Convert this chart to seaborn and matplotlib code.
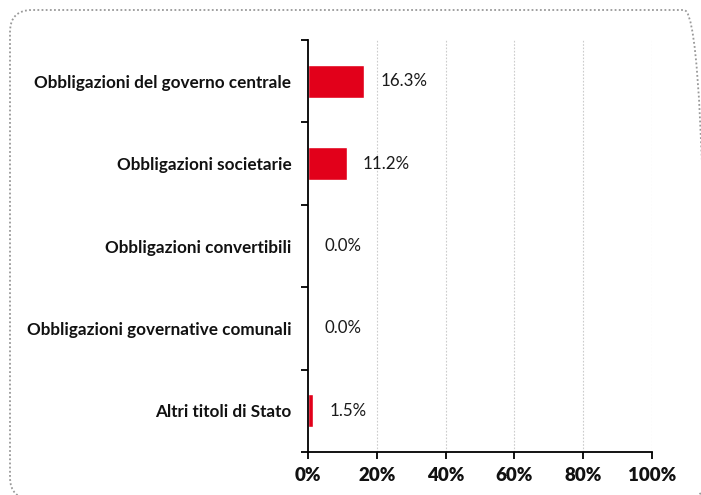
import matplotlib
matplotlib.use("Agg")
import matplotlib.pyplot as plt
import seaborn as sns
import pandas as pd
import numpy as np
from matplotlib.patches import FancyBboxPatch
from matplotlib.transforms import IdentityTransform
from matplotlib.ticker import FixedLocator, PercentFormatter

categories = [
    "Obbligazioni del governo centrale",
    "Obbligazioni societarie",
    "Obbligazioni convertibili",
    "Obbligazioni governative comunali",
    "Altri titoli di Stato",
]
values = [16.3, 11.2, 0.0, 0.0, 1.5]
x_ticks = [0, 20, 40, 60, 80, 100]

sns.set_style("white")
plt.rcParams["font.family"] = ["Lato", "DejaVu Sans"]

df = pd.DataFrame({"cat": categories, "val": values})

W, H = 701, 495
fig = plt.figure(figsize=(W / 100, H / 100), dpi=100)
ax = fig.add_axes([308 / W, 1 - 452 / H, (652 - 308) / W, (452 - 40) / H])

sns.barplot(data=df, y="cat", x="val", orient="h", color="#e2001a",
            width=0.4, ax=ax, saturation=1)

ax.set_xlim(0, 100)
ax.set_ylim(4.5, -0.5)
ax.xaxis.set_major_locator(FixedLocator(x_ticks))
ax.xaxis.set_major_formatter(PercentFormatter(decimals=0))
ax.set_xlabel("")
ax.set_ylabel("")

for x in x_ticks[1:]:
    ax.axvline(x, color="#cccccc", lw=0.8, ls=(0, (1.5, 1.5)), zorder=0)

for i, v in enumerate(values):
    ax.text(v + 4.8, i, f"{v:.1f}%", va="center", ha="left", fontsize=12.2,
            color="#1a1a1a")

for s in ["top", "right"]:
    ax.spines[s].set_visible(False)
for s in ["left", "bottom"]:
    ax.spines[s].set_color("black")
    ax.spines[s].set_linewidth(1.3)

ax.tick_params(axis="y", which="major", length=0, pad=12)
ax.set_yticks(np.arange(-0.5, 5, 1), minor=True)
ax.tick_params(axis="y", which="minor", length=5, width=1.3, color="black", left=True)
ax.tick_params(axis="x", which="major", length=5, width=1.3, color="black", bottom=True, pad=6)

for lbl in ax.get_yticklabels():
    lbl.set_fontweight("bold")
    lbl.set_fontsize(12.3)
    lbl.set_color("#111111")
for lbl in ax.get_xticklabels():
    lbl.set_fontweight("heavy")
    lbl.set_fontsize(13.5)
    lbl.set_color("#111111")

# rounded dotted frame in pixel coordinates (extends just beyond right/bottom edges)
left_px, top_px, right_px, bottom_px = 10, 10, 706, 499
border = FancyBboxPatch((left_px, H - bottom_px), right_px - left_px, bottom_px - top_px,
                        boxstyle="round,pad=0,rounding_size=22",
                        transform=IdentityTransform(), fill=False,
                        edgecolor="#999999", lw=1.3, ls=(0, (1, 1.3)),
                        clip_on=False)
fig.patches.append(border)

fig.savefig("out.png", dpi=100)
